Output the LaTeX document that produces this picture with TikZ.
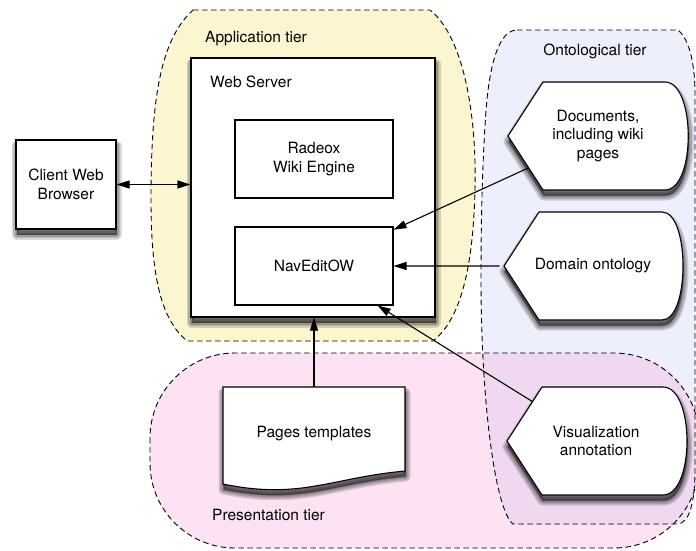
\documentclass[tikz,border=0pt]{standalone}
\usepackage{fontspec}
\setmainfont{TeX Gyre Heros}
\usetikzlibrary{arrows.meta,shapes.symbols,calc}

\definecolor{apptier}{HTML}{FBF6CF}
\definecolor{ontotier}{HTML}{EDEFFC}
\definecolor{prestier}{HTML}{FCE2F3}
\definecolor{bothtier}{HTML}{EFD8F0}

\begin{document}
\begin{tikzpicture}[x=1pt,y=-1pt,
  font=\fontsize{15.5}{18.5}\selectfont,
  tierline/.style={draw=black, line width=0.9pt, dash pattern=on 5.5pt off 3.5pt},
  shadowlayer/.style={preaction={draw=black, draw opacity=0.15, fill=black, fill opacity=0.15,
      line width=#1, line join=round, transform canvas={shift={(0.5pt,-5.5pt)}}}},
  shade/.style={shadowlayer=10pt, shadowlayer=7pt, shadowlayer=4pt, shadowlayer=1.5pt},
  box/.style={draw, line width=1.1pt, fill=white, align=center, inner sep=0pt},
  displaybox/.style={signal, signal to=west, signal from=nowhere, signal pointer angle=114,
    align=center, inner sep=0pt, minimum height=108pt},
  tierlabel/.style={inner sep=0pt, anchor=west},
  link/.style={line width=1.1pt, -{Triangle[length=13pt,width=8pt]}},
]
\useasboundingbox (0,0) rectangle (696,550);

% tier areas
\path[save path=\apppath] (193,10) -- (430,10) .. controls (462,35) and (477,110) .. (475,190)
  .. controls (473,270) and (460,320) .. (433,341) -- (187,341) .. controls (162,320) and (151,280) .. (151,200)
  .. controls (151,100) and (160,40) .. (193,10) -- cycle;
\path[save path=\ontopath] (517,30) -- (678,30) .. controls (690,40) and (695,65) .. (695,95) -- (695,470)
  .. controls (695,500) and (690,524) .. (677,524) -- (513,524) .. controls (495,510) and (481,400) .. (481,280)
  .. controls (481,220) and (482,170) .. (486,110) .. controls (490,60) and (500,30) .. (517,30) -- cycle;
\path[save path=\prespath, rounded corners=85pt] (150,353) rectangle (699,548);

\fill[apptier, use path=\apppath];
\fill[ontotier, use path=\ontopath];
\fill[prestier, use path=\prespath];
\begin{scope}
  \clip[use path=\ontopath];
  \fill[bothtier, use path=\prespath];
\end{scope}
\path[tierline, use path=\apppath];
\path[tierline, use path=\ontopath];
\path[tierline, use path=\prespath];

% tier names
\node[tierlabel] (applbl) at (205,38.5) {Application tier};
\node[inner sep=0pt] (ontolbl) at (595,51) {Ontological tier};
\node[tierlabel] (preslbl) at (212,515) {Presentation tier};

% application tier
\node[box, shade, minimum width=244pt, minimum height=259pt] (web) at (313,187.5) {};
\node[tierlabel] (weblbl) at (210,81.5) {Web Server};
\node[box, minimum width=158pt, minimum height=78pt] (radeox) at (314,159) {Radeox\\Wiki Engine};
\node[box, minimum width=158pt, minimum height=78pt] (nav) at (314,266) {NavEditOW};

% client
\node[box, shade, minimum width=100pt, minimum height=89pt] (client) at (66,184.5) {Client Web\\Browser};

% stored-data symbols and the page template
\path[box, shade] (508,136) -- (543,82) -- (665,82) .. controls (696,82) and (696,190) .. (665,190) -- (543,190) -- cycle;
\path[box, shade] (504,266) -- (539,212) -- (662,212) .. controls (690,212) and (690,320) .. (662,320) -- (539,320) -- cycle;
\path[box, shade] (507,441) -- (542,387) -- (663,387) .. controls (695,387) and (695,495) .. (663,495) -- (542,495) -- cycle;
\path[box, shade] (223,387) -- (405,387) -- (405,471) .. controls (330,478) and (300,500) .. (223,484) -- cycle;

\node[displaybox, minimum width=145pt] (docs) at (598,136) {Documents,\\including wiki\\pages};
\node[displaybox, minimum width=143pt] (onto) at (593,266) {Domain ontology};
\node[displaybox, minimum width=143pt] (vis) at (596,441) {Visualization\\annotation};
\node[inner sep=0pt, minimum width=182pt, minimum height=94pt] (pages) at (314,434) {Pages templates};

% connectors
\draw[line width=1.1pt, {Triangle[length=13pt,width=8pt]}-{Triangle[length=13pt,width=8pt]}] (client.east) -- (client.east -| web.west);
\draw[link] (pages.north) -- (pages.north |- web.south);
\draw[link] (docs) -- (nav);
\draw[link] (onto) -- (nav);
\draw[link] (vis) -- (nav);
\end{tikzpicture}
\end{document}
